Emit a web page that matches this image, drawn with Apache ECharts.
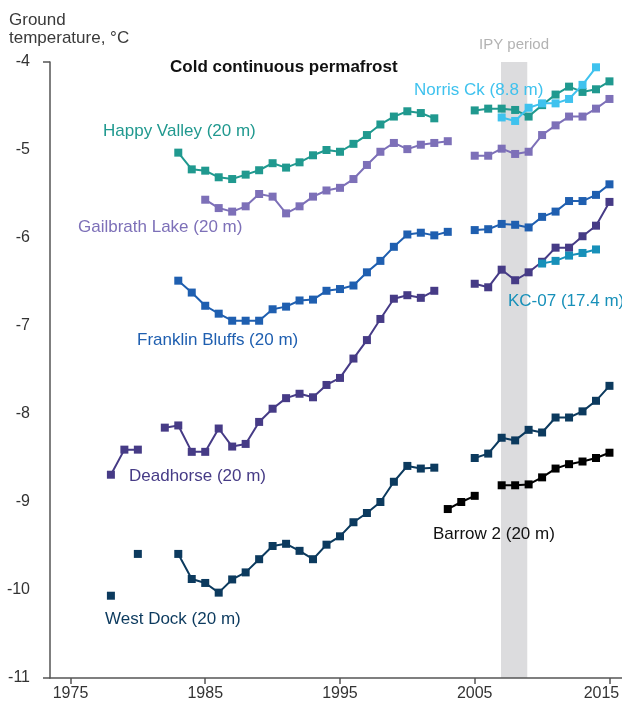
<!DOCTYPE html>
<html>
<head>
<meta charset="utf-8">
<script src="https://cdn.jsdelivr.net/npm/echarts@6/dist/echarts.min.js"></script>
<style>html,body{margin:0;padding:0;background:#fff;}#c{width:622px;height:708px;}</style>
</head>
<body>
<div id="c"></div>
<script>
// ---- data ----
const xTicks = [1975, 1985, 1995, 2005, 2015];
const yTicks = [-4, -5, -6, -7, -8, -9, -10, -11];
const ipyPeriod = [2006.95, 2008.9];

const happyValleyYears = [1983,1984,1985,1986,1987,1988,1989,1990,1991,1992,1993,1994,1995,1996,1997,1998,1999,2000,2001,2002,2003,2004,2005,2006,2007,2008,2009,2010,2011,2012,2013,2014,2015];
const happyValley = [-5.03,-5.22,-5.235,-5.31,-5.33,-5.28,-5.23,-5.15,-5.20,-5.14,-5.06,-5.0,-5.02,-4.93,-4.83,-4.71,-4.62,-4.56,-4.58,-4.64,null,null,-4.55,-4.53,-4.53,-4.545,-4.62,-4.49,-4.37,-4.28,-4.34,-4.31,-4.22];

const gailbrathYears = [1985,1986,1987,1988,1989,1990,1991,1992,1993,1994,1995,1996,1997,1998,1999,2000,2001,2002,2003,2004,2005,2006,2007,2008,2009,2010,2011,2012,2013,2014,2015];
const gailbrath = [-5.565,-5.66,-5.70,-5.64,-5.50,-5.53,-5.72,-5.64,-5.53,-5.46,-5.43,-5.33,-5.17,-5.02,-4.92,-4.99,-4.94,-4.92,-4.90,null,-5.065,-5.065,-4.985,-5.045,-5.02,-4.83,-4.72,-4.62,-4.62,-4.53,-4.42];

const franklinYears = [1983,1984,1985,1986,1987,1988,1989,1990,1991,1992,1993,1994,1995,1996,1997,1998,1999,2000,2001,2002,2003,2004,2005,2006,2007,2008,2009,2010,2011,2012,2013,2014,2015];
const franklin = [-6.485,-6.62,-6.77,-6.86,-6.94,-6.94,-6.94,-6.81,-6.78,-6.71,-6.70,-6.60,-6.58,-6.54,-6.39,-6.26,-6.10,-5.96,-5.94,-5.97,-5.93,null,-5.91,-5.90,-5.84,-5.85,-5.88,-5.76,-5.70,-5.58,-5.58,-5.51,-5.39];

const deadhorseYears = [1978,1979,1980,1981,1982,1983,1984,1985,1986,1987,1988,1989,1990,1991,1992,1993,1994,1995,1996,1997,1998,1999,2000,2001,2002,2003,2004,2005,2006,2007,2008,2009,2010,2011,2012,2013,2014,2015];
const deadhorse = [-8.69,-8.405,-8.405,null,-8.155,-8.13,-8.43,-8.43,-8.165,-8.37,-8.34,-8.09,-7.94,-7.82,-7.77,-7.81,-7.67,-7.59,-7.37,-7.16,-6.92,-6.69,-6.65,-6.68,-6.60,null,null,-6.52,-6.56,-6.36,-6.48,-6.39,-6.27,-6.11,-6.11,-5.98,-5.86,-5.59];

const westDockYears = [1978,1979,1980,1981,1982,1983,1984,1985,1986,1987,1988,1989,1990,1991,1992,1993,1994,1995,1996,1997,1998,1999,2000,2001,2002,2003,2004,2005,2006,2007,2008,2009,2010,2011,2012,2013,2014,2015];
const westDock = [-10.065,null,-9.59,null,null,-9.59,-9.875,-9.92,-10.03,-9.88,-9.80,-9.65,-9.50,-9.475,-9.555,-9.65,-9.485,-9.39,-9.23,-9.125,-9.0,-8.77,-8.59,-8.62,-8.61,null,null,-8.50,-8.45,-8.27,-8.30,-8.18,-8.21,-8.04,-8.04,-7.97,-7.85,-7.68];

const barrowYears = [2003,2004,2005,2006,2007,2008,2009,2010,2011,2012,2013,2014,2015];
const barrow = [-9.08,-9.0,-8.93,null,-8.81,-8.81,-8.80,-8.72,-8.62,-8.57,-8.54,-8.50,-8.44];

const kc07Years = [2010,2011,2012,2013,2014];
const kc07 = [-6.29,-6.26,-6.20,-6.17,-6.13];

const norrisYears = [2007,2008,2009,2010,2011,2012,2013,2014];
const norris = [-4.63,-4.67,-4.52,-4.47,-4.47,-4.42,-4.26,-4.06];

// ---- chart ----
const FONT = 'Liberation Sans';
function pairs(years, vals) { return years.map((y, i) => [y, vals[i] === null ? '-' : vals[i]]); }
function line(name, years, vals, color, z) {
  return {
    name, type: 'line', data: pairs(years, vals), z: z,
    symbol: 'rect', symbolSize: 8, connectNulls: false,
    lineStyle: { color, width: 2 }, itemStyle: { color },
    animation: false, silent: true
  };
}
function label(text, x, y, color, extra) {
  return { type: 'text', x, y, z: 100, silent: true,
    style: Object.assign({ text, fill: color, font: '17px "' + FONT + '"', textVerticalAlign: 'middle' }, extra || {}) };
}

const chart = echarts.init(document.getElementById('c'), null, { renderer: 'canvas' });
const option = {
  animation: false,
  grid: { left: 50, top: 62, right: 0, bottom: 30, containLabel: false, outerBoundsMode: 'none' },
  xAxis: {
    type: 'value', min: 1973.48, max: 2015.93,
    axisLine: { show: true, lineStyle: { color: '#555', width: 1.5 } },
    axisTick: { show: true, customValues: xTicks, length: 6, lineStyle: { color: '#555', width: 1.5 } },
    axisLabel: {
      customValues: xTicks, color: '#333', fontSize: 16, fontFamily: FONT, margin: 8,
      formatter: v => (v === xTicks[xTicks.length - 1] ? '{last|' + v + '}' : String(v)),
      rich: { last: { color: '#333', fontSize: 16, fontFamily: FONT, padding: [0, 16, 0, 0] } }
    },
    splitLine: { show: false }
  },
  yAxis: {
    type: 'value', min: -11, max: -4, interval: 1,
    axisLine: { show: true, lineStyle: { color: '#555', width: 1.5 } },
    axisTick: { show: true, customValues: [-4, -11], length: 7, lineStyle: { color: '#555', width: 1.5 } },
    axisLabel: { customValues: yTicks, color: '#333', fontSize: 16, fontFamily: FONT, margin: 20, formatter: v => String(v) },
    splitLine: { show: false }
  },
  series: [
    { type: 'custom', z: 0, silent: true, data: [[ipyPeriod[0], ipyPeriod[1]]],
      renderItem: function (params, api) {
        const p0 = api.coord([api.value(0), -4]);
        const p1 = api.coord([api.value(1), -11]);
        return { type: 'rect', shape: { x: p0[0], y: p0[1], width: p1[0] - p0[0], height: p1[1] - p0[1] }, style: { fill: '#dcdcde' } };
      } },
    line('West Dock', westDockYears, westDock, '#0c3a5e', 3),
    line('Barrow 2', barrowYears, barrow, '#000000', 3),
    line('Deadhorse', deadhorseYears, deadhorse, '#463b86', 3),
    line('KC-07', kc07Years, kc07, '#1790b9', 4),
    line('Franklin Bluffs', franklinYears, franklin, '#1f5fb0', 3),
    line('Gailbrath Lake', gailbrathYears, gailbrath, '#7d70b8', 3),
    line('Happy Valley', happyValleyYears, happyValley, '#20998f', 3),
    line('Norris Ck', norrisYears, norris, '#3fc2ee', 4)
  ],
  graphic: [
    { type: 'text', left: 9, top: 11, z: 100, style: { text: 'Ground\ntemperature, °C', fill: '#3a3a3a', font: '17px "' + FONT + '"', lineHeight: 18 } },
    label('Cold continuous permafrost', 170, 67, '#111', { font: 'bold 17px "' + FONT + '"' }),
    label('IPY period', 479, 45, '#b3b3b3', { font: '15px "' + FONT + '"' }),
    label('Happy Valley (20 m)', 103, 131, '#20998f'),
    label('Gailbrath Lake (20 m)', 78, 227, '#7d70b8'),
    label('Franklin Bluffs (20 m)', 137, 340, '#1f5fb0'),
    label('Deadhorse (20 m)', 129, 476, '#463b86'),
    label('West Dock (20 m)', 105, 619, '#0c3a5e'),
    label('Barrow 2 (20 m)', 433, 534, '#111'),
    label('KC-07 (17.4 m)', 508, 301, '#1790b9'),
    label('Norris Ck (8.8 m)', 414, 90, '#3fc2ee')
  ]
};
chart.setOption(option);
</script>
</body>
</html>
